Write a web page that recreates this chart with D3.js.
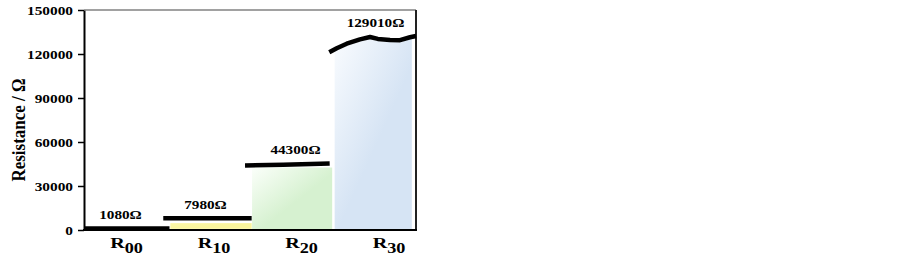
<!DOCTYPE html>
<html lang="en">
<head>
<meta charset="UTF-8" />
<script src="https://cdn.jsdelivr.net/npm/d3@7"></script>
<style>
  body { margin: 0; background: #fff; }
  text { font-family: "Liberation Serif", "Times New Roman", serif; font-weight: bold; }
</style>
</head>
<body>
<div id="chart"></div>
<script>
// categories and values
const categories = ["00", "10", "20", "30"];
const labels = ["1080Ω", "7980Ω", "44300Ω", "129010Ω"];
const yTicks = [0, 30000, 60000, 90000, 120000, 150000];

// measured trace for each stage: [position along x (0..4), resistance]
const traceR00 = [[0, 1080], [1.03, 1080]];
const traceR10 = [[0.955, 7980], [2.02, 7980]];
const traceR20 = [[1.94, 44000], [2.4, 44500], [2.96, 45400]];
const traceR30 = [[2.955, 121200], [3.045, 123900], [3.165, 127000], [3.325, 130000],
                  [3.446, 131600], [3.54, 130300], [3.687, 129600], [3.807, 129400],
                  [3.928, 131400], [4.0, 132300]];
const traces = [traceR00, traceR10, traceR20, traceR30];

// shaded level under each stage
const fillTop = [0, 4700, 42600, null];

const W = 903, H = 257;
const svg = d3.select("#chart").append("svg")
    .attr("width", W).attr("height", H);

const x = d3.scaleLinear().domain([0, 4]).range([84, 416]);
const y = d3.scaleLinear().domain([0, 150000]).range([230, 10]);
const labelX = d3.scalePoint().domain(categories).range([126.5, 389]);

// gradients
const defs = svg.append("defs");
const grads = [
    { id: "gY", c0: "#fbf7a8", c1: "#f9f49c" },
    { id: "gG", c0: "#fbfffa", c1: "#d6f1d0" },
    { id: "gB", c0: "#fbfdff", c1: "#d6e4f4" }
];
grads.forEach(g => {
    const lg = defs.append("linearGradient").attr("id", g.id)
        .attr("x1", 0).attr("y1", 0).attr("x2", 1).attr("y2", 1);
    lg.append("stop").attr("offset", "0%").attr("stop-color", g.c0);
    lg.append("stop").attr("offset", "55%").attr("stop-color", g.c1);
    lg.append("stop").attr("offset", "100%").attr("stop-color", g.c1);
});
defs.append("clipPath").attr("id", "clip30")
    .append("rect").attr("x", x(3.02)).attr("y", 0)
    .attr("width", x(3.95) - x(3.02)).attr("height", y(0));

// fills
svg.append("rect")
    .attr("x", x(1.04)).attr("width", x(2.02) - x(1.04))
    .attr("y", y(fillTop[1])).attr("height", y(800) - y(fillTop[1]))
    .attr("fill", "url(#gY)");
svg.append("rect")
    .attr("x", x(2.025)).attr("width", x(2.99) - x(2.025))
    .attr("y", y(fillTop[2])).attr("height", y(0) - y(fillTop[2]))
    .attr("fill", "url(#gG)");
svg.append("path")
    .datum(traceR30)
    .attr("clip-path", "url(#clip30)")
    .attr("fill", "url(#gB)")
    .attr("d", d3.area().x(d => x(d[0])).y0(y(0)).y1(d => y(d[1]) + 2));

// axis
const yAxis = svg.append("g")
    .attr("transform", `translate(${x(0)},0)`)
    .call(d3.axisLeft(y).tickValues(yTicks).tickSize(6).tickPadding(4).tickSizeOuter(0).tickFormat(d3.format("d")));
yAxis.select(".domain").attr("stroke-width", 2);
yAxis.selectAll(".tick line").attr("stroke-width", 1.5);
yAxis.selectAll(".tick text")
    .attr("font-size", 13)
    .attr("font-family", "Liberation Serif")
    .attr("font-weight", "bold")
    .attr("fill", "#000")
    .attr("transform", "scale(1.18,1)")
    .attr("x", -11 / 1.18);

// frame
svg.append("line").attr("x1", x(0)).attr("x2", x(4)).attr("y1", y(150000)).attr("y2", y(150000))
    .attr("stroke", "#444").attr("stroke-width", 1.2);
svg.append("line").attr("x1", x(4)).attr("x2", x(4)).attr("y1", y(150000)).attr("y2", y(0))
    .attr("stroke", "#222").attr("stroke-width", 2);
svg.append("line").attr("x1", x(0) - 1).attr("x2", x(4) + 1).attr("y1", y(0)).attr("y2", y(0))
    .attr("stroke", "#000").attr("stroke-width", 2);

// traces
const line = d3.line().x(d => x(d[0])).y(d => y(d[1]));
svg.selectAll("path.trace")
    .data(traces)
    .join("path")
    .attr("class", "trace")
    .attr("fill", "none")
    .attr("stroke", "#000")
    .attr("stroke-width", 4.5)
    .attr("stroke-linejoin", "round")
    .attr("d", line);

// value labels
const labelShift = [-5, -3, 4, 1];
svg.selectAll("text.val")
    .data(labels)
    .join("text")
    .attr("class", "val")
    .attr("font-size", 13)
    .attr("text-anchor", "middle")
    .attr("transform", (d, i) => {
        const cx = x(i + 0.5) + labelShift[i];
        const top = y(d3.max(traces[i], p => p[1])) - 9;
        return `translate(${cx},${top}) scale(1.17,1)`;
    })
    .text(d => d);

// category labels R with subscript
const cat = svg.selectAll("text.cat")
    .data(categories)
    .join("text")
    .attr("class", "cat")
    .attr("text-anchor", "middle")
    .attr("transform", d => `translate(${labelX(d)},248) scale(1.3,1)`);
cat.append("tspan").attr("font-size", 15.5).text("R");
cat.append("tspan").attr("font-size", 14).attr("dy", 5).text(d => d);

// y title
svg.append("text")
    .attr("text-anchor", "middle")
    .attr("font-size", 17)
    .attr("transform", "translate(25,130) scale(1.15,1) rotate(-90)")
    .text("Resistance / Ω");
</script>
</body>
</html>
